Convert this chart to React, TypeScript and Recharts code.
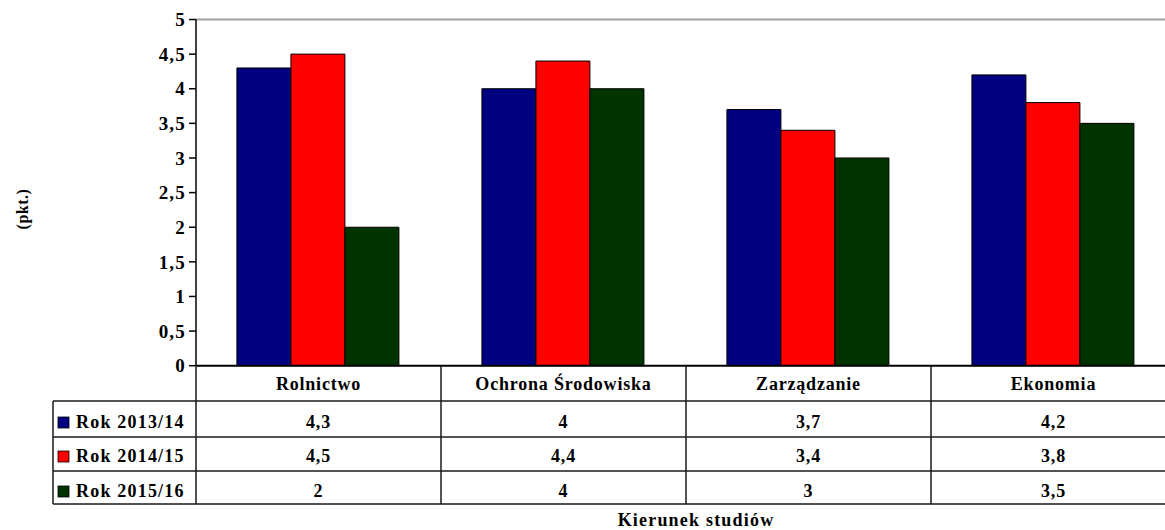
import React from 'react';
import { BarChart, Bar, XAxis, YAxis, ReferenceLine, Label } from 'recharts';

const categories = ['Rolnictwo', 'Ochrona Środowiska', 'Zarządzanie', 'Ekonomia'];
const seriesNames = ['Rok 2013/14', 'Rok 2014/15', 'Rok 2015/16'];
const rok201314 = [4.3, 4, 3.7, 4.2];
const rok201415 = [4.5, 4.4, 3.4, 3.8];
const rok201516 = [2, 4, 3, 3.5];
const yTicks = [0, 0.5, 1, 1.5, 2, 2.5, 3, 3.5, 4, 4.5, 5];
const seriesKeys = ['s1', 's2', 's3'];
const colors = ['#000080', '#FF0000', '#003300'];

const data = categories.map((c, i) => ({
  category: c,
  s1: rok201314[i],
  s2: rok201415[i],
  s3: rok201516[i],
}));

const W = 1180;
const H = 530;
const LEFT = 196;
const RIGHT_M = 4;
const TOP = 19.5;
const XAXIS_H = 164.3;
const BAND = (W - LEFT - RIGHT_M) / categories.length;
const FONT = '"Liberation Serif", "Times New Roman", serif';
const LINE = '#1a1a1a';

const ROW_LINES = [366, 401, 437, 471, 504];
const CAT_BASE = 390;
const ROW_BASE = [428, 462, 497];
const TABLE_LEFT = 53;

const fmt = (v: number) => String(v).replace('.', ',');

const TableTick = (props: any) => {
  const { x, payload, index } = props;
  const i = index ?? categories.indexOf(payload.value);
  const right = x + BAND / 2;
  const left = x - BAND / 2;
  const textStyle = { fontFamily: FONT, fontWeight: 'bold' as const, fontSize: 18, letterSpacing: 0.8 };
  return (
    <g>
      {i === 0 && (
        <g>
          <line x1={left} y1={ROW_LINES[0]} x2={left} y2={ROW_LINES[4]} stroke={LINE} strokeWidth={1.5} />
          <line x1={TABLE_LEFT} y1={ROW_LINES[1]} x2={TABLE_LEFT} y2={ROW_LINES[4]} stroke={LINE} strokeWidth={1.5} />
          {[1, 2, 3, 4].map((r) => (
            <line key={r} x1={TABLE_LEFT} y1={ROW_LINES[r]} x2={W} y2={ROW_LINES[r]} stroke={LINE} strokeWidth={1.5} />
          ))}
          {seriesNames.map((n, k) => (
            <g key={n}>
              <rect x={58} y={ROW_BASE[k] - 11} width={11} height={11} fill={colors[k]} stroke="#000" strokeWidth={0.8} />
              <text x={76} y={ROW_BASE[k]} fill="#000" style={{ ...textStyle, letterSpacing: 1.2 }}>{n}</text>
            </g>
          ))}
        </g>
      )}
      <line x1={right} y1={ROW_LINES[0]} x2={right} y2={ROW_LINES[4]} stroke={LINE} strokeWidth={1.5} />
      <text x={x} y={CAT_BASE} textAnchor="middle" fill="#000" style={textStyle}>
        {payload.value}
      </text>
      {[rok201314, rok201415, rok201516].map((arr, k) => (
        <text key={k} x={x} y={ROW_BASE[k]} textAnchor="middle" fill="#000" style={textStyle}>
          {fmt(arr[i])}
        </text>
      ))}
    </g>
  );
};

const YLabel = () => (
  <text
    x={22}
    y={209}
    transform="rotate(-90, 22, 209)"
    textAnchor="middle"
    dominantBaseline="central"
    fill="#000"
    style={{ fontFamily: FONT, fontWeight: 'bold', fontSize: 16, letterSpacing: 0.5 }}
  >
    (pkt.)
  </text>
);

export default function App() {
  return (
    <div style={{ position: 'absolute', left: 0, top: 0, width: 1165, height: 530, overflow: 'hidden', background: '#fff' }}>
      <BarChart
        width={W}
        height={H}
        data={data}
        margin={{ top: TOP, right: RIGHT_M, left: 0, bottom: 0 }}
        barCategoryGap="16.7%"
        barGap={0}
      >
        <ReferenceLine y={5} stroke="#a0a0a0" strokeWidth={2} />
        <XAxis
          dataKey="category"
          height={XAXIS_H}
          axisLine={{ stroke: '#000', strokeWidth: 2 }}
          tickLine={false}
          interval={0}
          tick={<TableTick />}
        >
          <Label
            value="Kierunek studiów"
            position="insideBottom"
            offset={4}
            dx={10}
            fill="#000"
            style={{ fontFamily: FONT, fontWeight: 'bold', fontSize: 18, letterSpacing: 1.2 }}
          />
        </XAxis>
        <YAxis
          width={LEFT}
          domain={[0, 5]}
          ticks={yTicks}
          interval={0}
          tickFormatter={fmt}
          tickSize={7}
          tickMargin={3}
          axisLine={{ stroke: '#000', strokeWidth: 1.5 }}
          tickLine={{ stroke: '#000', strokeWidth: 1.5 }}
          tick={{ fill: '#000', fontFamily: FONT, fontWeight: 'bold', fontSize: 19, letterSpacing: 1.2 }}
        >
          <Label content={<YLabel />} />
        </YAxis>
        {seriesKeys.map((k, idx) => (
          <Bar key={k} dataKey={k} name={seriesNames[idx]} fill={colors[idx]} stroke="#000" strokeWidth={1} isAnimationActive={false} />
        ))}
      </BarChart>
    </div>
  );
}
